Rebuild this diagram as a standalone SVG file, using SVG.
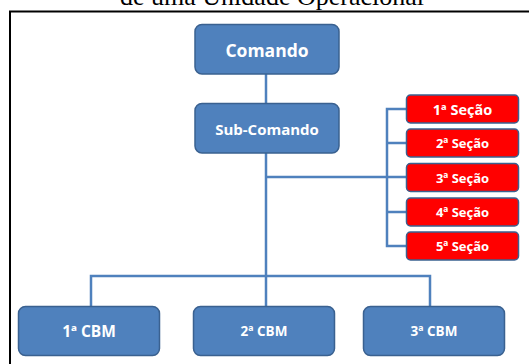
<svg xmlns="http://www.w3.org/2000/svg" width="529" height="364" viewBox="0 0 529 364">
<style>
.blue{fill:#4F81BD;stroke:#3A6190;stroke-width:1.5}
.red{fill:#FF0000;stroke:#3A6190;stroke-width:1.5}
.lbl{font-family:"Open Sans","Liberation Sans",sans-serif;font-weight:bold;fill:#fff;text-anchor:middle;dominant-baseline:central}
.conn{stroke:#4F81BD;stroke-width:2.5;fill:none}
</style>
<rect width="529" height="364" fill="#fff"/>
<text x="272" y="5" font-family="'Liberation Serif',serif" font-size="26" text-anchor="middle" fill="#000">de uma Unidade Operacional</text>
<path d="M10 364 V11.5 H529" fill="none" stroke="#000" stroke-width="2"/>
<g id="connectors">
<path class="conn" d="M266 74 V103"/>
<path class="conn" d="M266 153 V307"/>
<path class="conn" d="M266 177 H387"/>
<path class="conn" d="M407 109 H387 V246 H407"/>
<path class="conn" d="M387 143 H407 M387 177 H407 M387 212 H407"/>
<path class="conn" d="M91 307 V276 H430 V307"/>
</g>
<g id="comando"><rect class="blue" x="195" y="24.5" width="144" height="49.5" rx="7"/><text class="lbl" x="267" y="49.5" font-size="17.5">Comando</text></g>
<g id="subcomando"><rect class="blue" x="195" y="103.5" width="144" height="49.5" rx="7"/><text class="lbl" x="267" y="128.5" font-size="15">Sub-Comando</text></g>
<g id="secao1"><rect class="red" x="406.5" y="95" width="112" height="28" rx="4"/><text class="lbl" x="462.5" y="109" font-size="14.5">1ª Seção</text></g>
<g id="secao2"><rect class="red" x="406.5" y="129" width="112" height="28" rx="4"/><text class="lbl" x="462.5" y="143" font-size="13">2ª Seção</text></g>
<g id="secao3"><rect class="red" x="406.5" y="163.5" width="112" height="28" rx="4"/><text class="lbl" x="462.5" y="177.5" font-size="13">3ª Seção</text></g>
<g id="secao4"><rect class="red" x="406.5" y="198" width="112" height="28" rx="4"/><text class="lbl" x="462.5" y="212" font-size="13">4ª Seção</text></g>
<g id="secao5"><rect class="red" x="406.5" y="232" width="112" height="28" rx="4"/><text class="lbl" x="462.5" y="246" font-size="13">5ª Seção</text></g>
<g id="cbm1"><rect class="blue" x="18.5" y="306.5" width="141" height="49" rx="7"/><text class="lbl" x="89" y="331" font-size="15.5">1ª CBM</text></g>
<g id="cbm2"><rect class="blue" x="193.5" y="306.5" width="141" height="49" rx="7"/><text class="lbl" x="264" y="331" font-size="13.5" font-weight="normal">2ª CBM</text></g>
<g id="cbm3"><rect class="blue" x="363.5" y="306.5" width="141" height="49" rx="7"/><text class="lbl" x="434" y="331" font-size="13.5" font-weight="normal">3ª CBM</text></g>
</svg>
